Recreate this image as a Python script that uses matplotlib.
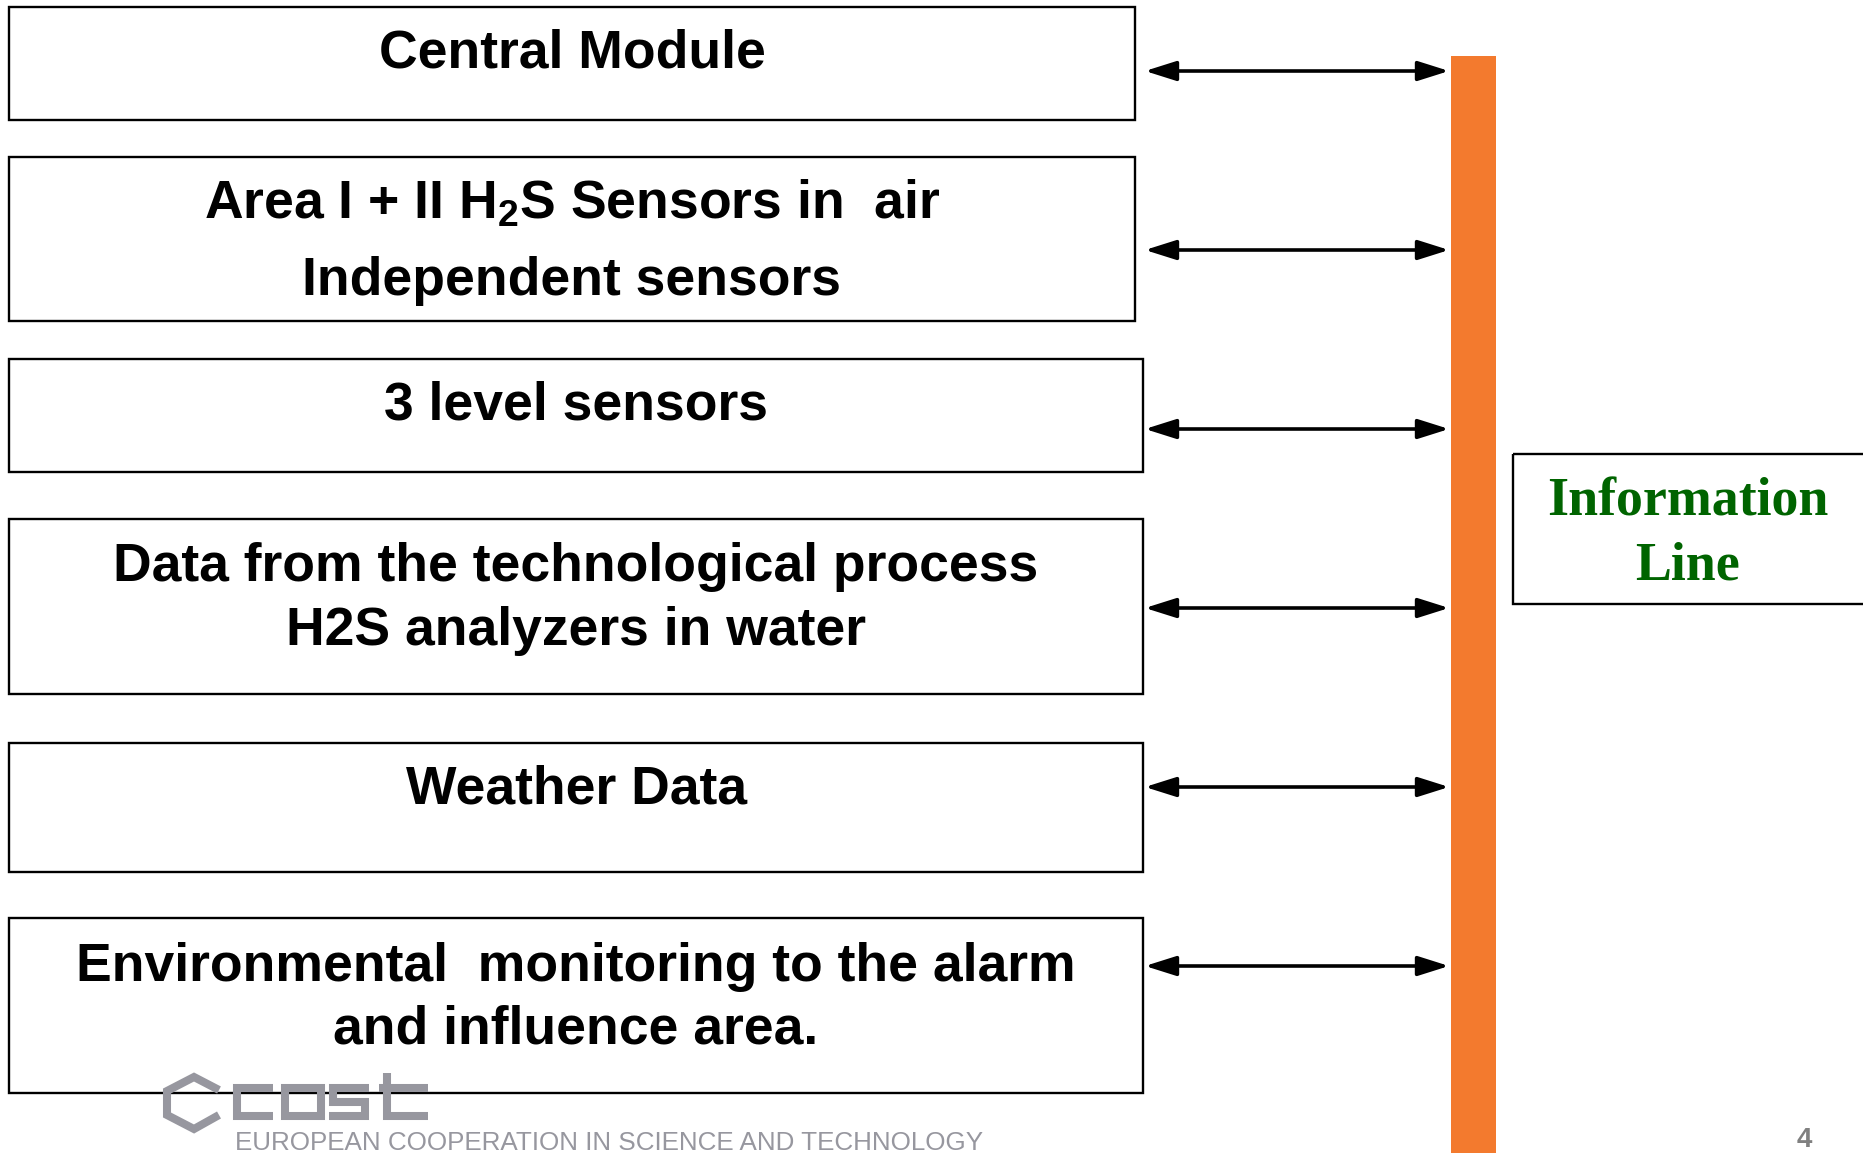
import matplotlib
matplotlib.use("Agg")
import matplotlib.pyplot as plt
from matplotlib.patches import Rectangle, FancyArrowPatch, ArrowStyle

plt.rcParams['mathtext.default'] = 'regular'

# box texts, one list of lines per box
box_lines = [
    ["Central Module"],
    ["Area I + II H$_2$S Sensors in  air", "Independent sensors"],
    ["3 level sensors"],
    ["Data from the technological process", "H2S analyzers in water"],
    ["Weather Data"],
    ["Environmental  monitoring to the alarm", "and influence area."],
]
bus_label = ["Information", "Line"]
footer = "EUROPEAN COOPERATION IN SCIENCE AND TECHNOLOGY"
page_no = "4"

# layout in pixels (figure is 1863 x 1153)
W, H = 1863, 1153
box_x = [9, 9, 9, 9, 9, 9]
box_r = [1135, 1135, 1143, 1143, 1143, 1143]
box_top = [7, 157, 359, 519, 743, 918]
box_bot = [120, 321, 472, 694, 872, 1093]
text_base = [[68], [219, 295], [420], [581, 645], [804], [981, 1044]]
arrow_y = [71, 250, 429, 608, 787, 966]

fig = plt.figure(figsize=(W / 100, H / 100), dpi=100)
ax = fig.add_axes([0, 0, 1, 1])
ax.set_xlim(0, W)
ax.set_ylim(H, 0)
ax.axis('off')

font = dict(family='Liberation Sans', weight='bold', size=38.5, color='black')

for i, lines in enumerate(box_lines):
    ax.add_patch(Rectangle((box_x[i], box_top[i]), box_r[i] - box_x[i],
                           box_bot[i] - box_top[i], fill=False,
                           edgecolor='black', lw=1.7))
    cx = (box_x[i] + box_r[i]) / 2
    for txt, yb in zip(lines, text_base[i]):
        ax.text(cx, yb, txt, ha='center', va='baseline', **font)

# orange information bus
ax.add_patch(Rectangle((1451, 56), 45, H - 56, facecolor='#F37A2E',
                       edgecolor='none'))

style = ArrowStyle('<|-|>', head_length=19, head_width=6)
for y in arrow_y:
    ax.add_patch(FancyArrowPatch((1145, y), (1449, y), arrowstyle=style,
                                 mutation_scale=1, lw=2.6, color='black',
                                 shrinkA=0, shrinkB=0))

# information line box
ax.add_patch(Rectangle((1513, 454), 400, 150, fill=False, edgecolor='black',
                       lw=1.7, clip_on=False))
for txt, yb in zip(bus_label, [516, 579]):
    ax.text(1688, yb, txt, ha='center', va='baseline', family='Liberation Serif',
            weight='bold', size=38.8, color='#006400')

# cost logo
grey = '#97979f'
lw_logo = 5.8
ax.plot([219, 194, 167, 167, 194, 219], [1090, 1077, 1091, 1115, 1129, 1115],
        color=grey, lw=lw_logo, solid_joinstyle='miter', solid_capstyle='butt')
ax.plot([273, 237, 237, 273], [1088, 1088, 1116, 1116], color=grey,
        lw=lw_logo, solid_joinstyle='miter', solid_capstyle='butt')
ax.add_patch(Rectangle((285, 1088), 36, 28, fill=False, edgecolor=grey,
                       lw=lw_logo, joinstyle='miter'))
ax.plot([369, 333, 333, 365, 365, 329], [1088, 1088, 1102, 1102, 1116, 1116],
        color=grey, lw=lw_logo, solid_joinstyle='miter', solid_capstyle='butt')
ax.plot([387, 387, 428], [1073, 1116, 1116], color=grey, lw=lw_logo,
        solid_joinstyle='miter', solid_capstyle='butt')
ax.plot([379, 428], [1088, 1088], color=grey, lw=lw_logo, solid_capstyle='butt')
ax.text(235, 1150, footer, ha='left', va='baseline',
        family='Liberation Sans', size=18.7, color=grey)

ax.text(1804, 1147, page_no, ha='center', va='baseline', family='Liberation Sans',
        weight='bold', size=20, color='#808080')

fig.savefig('out.png', dpi=100)
